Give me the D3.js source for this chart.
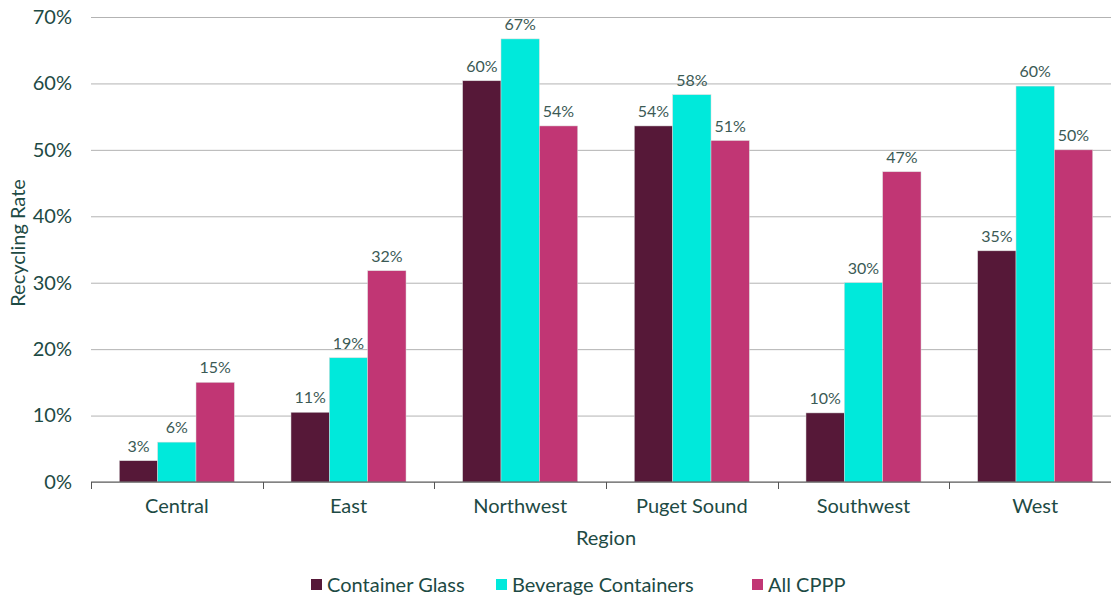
<!DOCTYPE html>
<html>
<head>
<meta charset="utf-8">
<script src="https://cdn.jsdelivr.net/npm/d3@7"></script>
<style>
  body { margin: 0; background: #fff; }
  text { font-family: Lato, "Open Sans", sans-serif; }
</style>
</head>
<body>
<div id="chart"></div>
<script>
const regions = ["Central", "East", "Northwest", "Puget Sound", "Southwest", "West"];
const seriesNames = ["Container Glass", "Beverage Containers", "All CPPP"];
const containerGlass = [3.2, 10.5, 60.4, 53.6, 10.4, 34.8];
const beverageContainers = [6.0, 18.7, 66.7, 58.3, 30.0, 59.6];
const allCPPP = [15.0, 31.8, 53.6, 51.4, 46.7, 50.0];
const yTicks = [0, 10, 20, 30, 40, 50, 60, 70];
const colors = ["#561838", "#00e9db", "#c13674"];

const width = 1111, height = 597;
const margin = {top: 17, right: -10, bottom: 115, left: 91};
const series = [containerGlass, beverageContainers, allCPPP];

let svg = d3.select("#chart").append("svg")
  .attr("width", width)
  .attr("height", height);

let x = d3.scaleBand()
  .domain(regions)
  .range([margin.left, width - margin.right])
  .paddingInner(0.33)
  .paddingOuter(0.165);

let xs = d3.scaleBand()
  .domain(seriesNames)
  .range([0, x.bandwidth()]);

let y = d3.scaleLinear()
  .domain([0, 70])
  .range([height - margin.bottom, margin.top]);

// gridlines + y labels
let yaxis = d3.axisLeft(y)
  .tickValues(yTicks)
  .tickFormat(d => d + "%")
  .tickSize(-(width - margin.left))
  .tickPadding(19);

svg.append("g")
  .attr("class", "y axis")
  .attr("transform", "translate(" + margin.left + ",0)")
  .call(yaxis)
  .call(g => g.select(".domain").remove())
  .call(g => g.selectAll("line").attr("stroke", "#b3b3b3"))
  .call(g => g.selectAll("text")
    .attr("fill", "#1d4a44")
    .style("font-size", "20px"));

// bars
regions.forEach((r, i) => {
  let g = svg.append("g").attr("transform", "translate(" + x(r) + ",0)");
  seriesNames.forEach((s, j) => {
    let v = series[j][i];
    g.append("rect")
      .attr("x", xs(s))
      .attr("y", y(v))
      .attr("width", xs.bandwidth())
      .attr("height", y(0) - y(v))
      .attr("fill", colors[j])
      .attr("stroke", "#d9d9d9")
      .attr("stroke-width", 0.5);
    g.append("text")
      .attr("x", xs(s) + xs.bandwidth() / 2)
      .attr("y", y(v) - 9)
      .attr("text-anchor", "middle")
      .attr("fill", "#3b5a55")
      .style("font-size", "16px")
      .text(Math.round(v) + "%");
  });
});

// x axis
let step = x.step();
let xaxis = d3.axisBottom(x).tickSize(0).tickPadding(17);
let xg = svg.append("g")
  .attr("class", "x axis")
  .attr("transform", "translate(0," + y(0) + ")")
  .call(xaxis);
xg.select(".domain").attr("stroke", "#555").attr("d", "M" + margin.left + ",0H" + width);
xg.selectAll("text").attr("fill", "#1d4a44").style("font-size", "20px");
d3.range(regions.length + 1).forEach(i => {
  let xp = Math.round(margin.left + i * step) + 0.5;
  xg.append("line")
    .attr("x1", xp).attr("x2", xp)
    .attr("y1", 0).attr("y2", 7)
    .attr("stroke", "#555");
});

// axis titles
svg.append("text")
  .attr("x", 606)
  .attr("y", 545)
  .attr("text-anchor", "middle")
  .attr("fill", "#1d4a44")
  .style("font-size", "20px")
  .text("Region");

svg.append("text")
  .attr("transform", "translate(25,243) rotate(-90)")
  .attr("text-anchor", "middle")
  .attr("fill", "#1d4a44")
  .style("font-size", "20px")
  .text("Recycling Rate");

// legend
let legendX = [311, 496, 752];
let legend = svg.append("g");
seriesNames.forEach((s, j) => {
  legend.append("rect")
    .attr("x", legendX[j]).attr("y", 579)
    .attr("width", 11).attr("height", 11)
    .attr("fill", colors[j]);
  legend.append("text")
    .attr("x", legendX[j] + 16).attr("y", 592)
    .attr("fill", "#1d4a44")
    .style("font-size", "20px")
    .text(s);
});
</script>
</body>
</html>
